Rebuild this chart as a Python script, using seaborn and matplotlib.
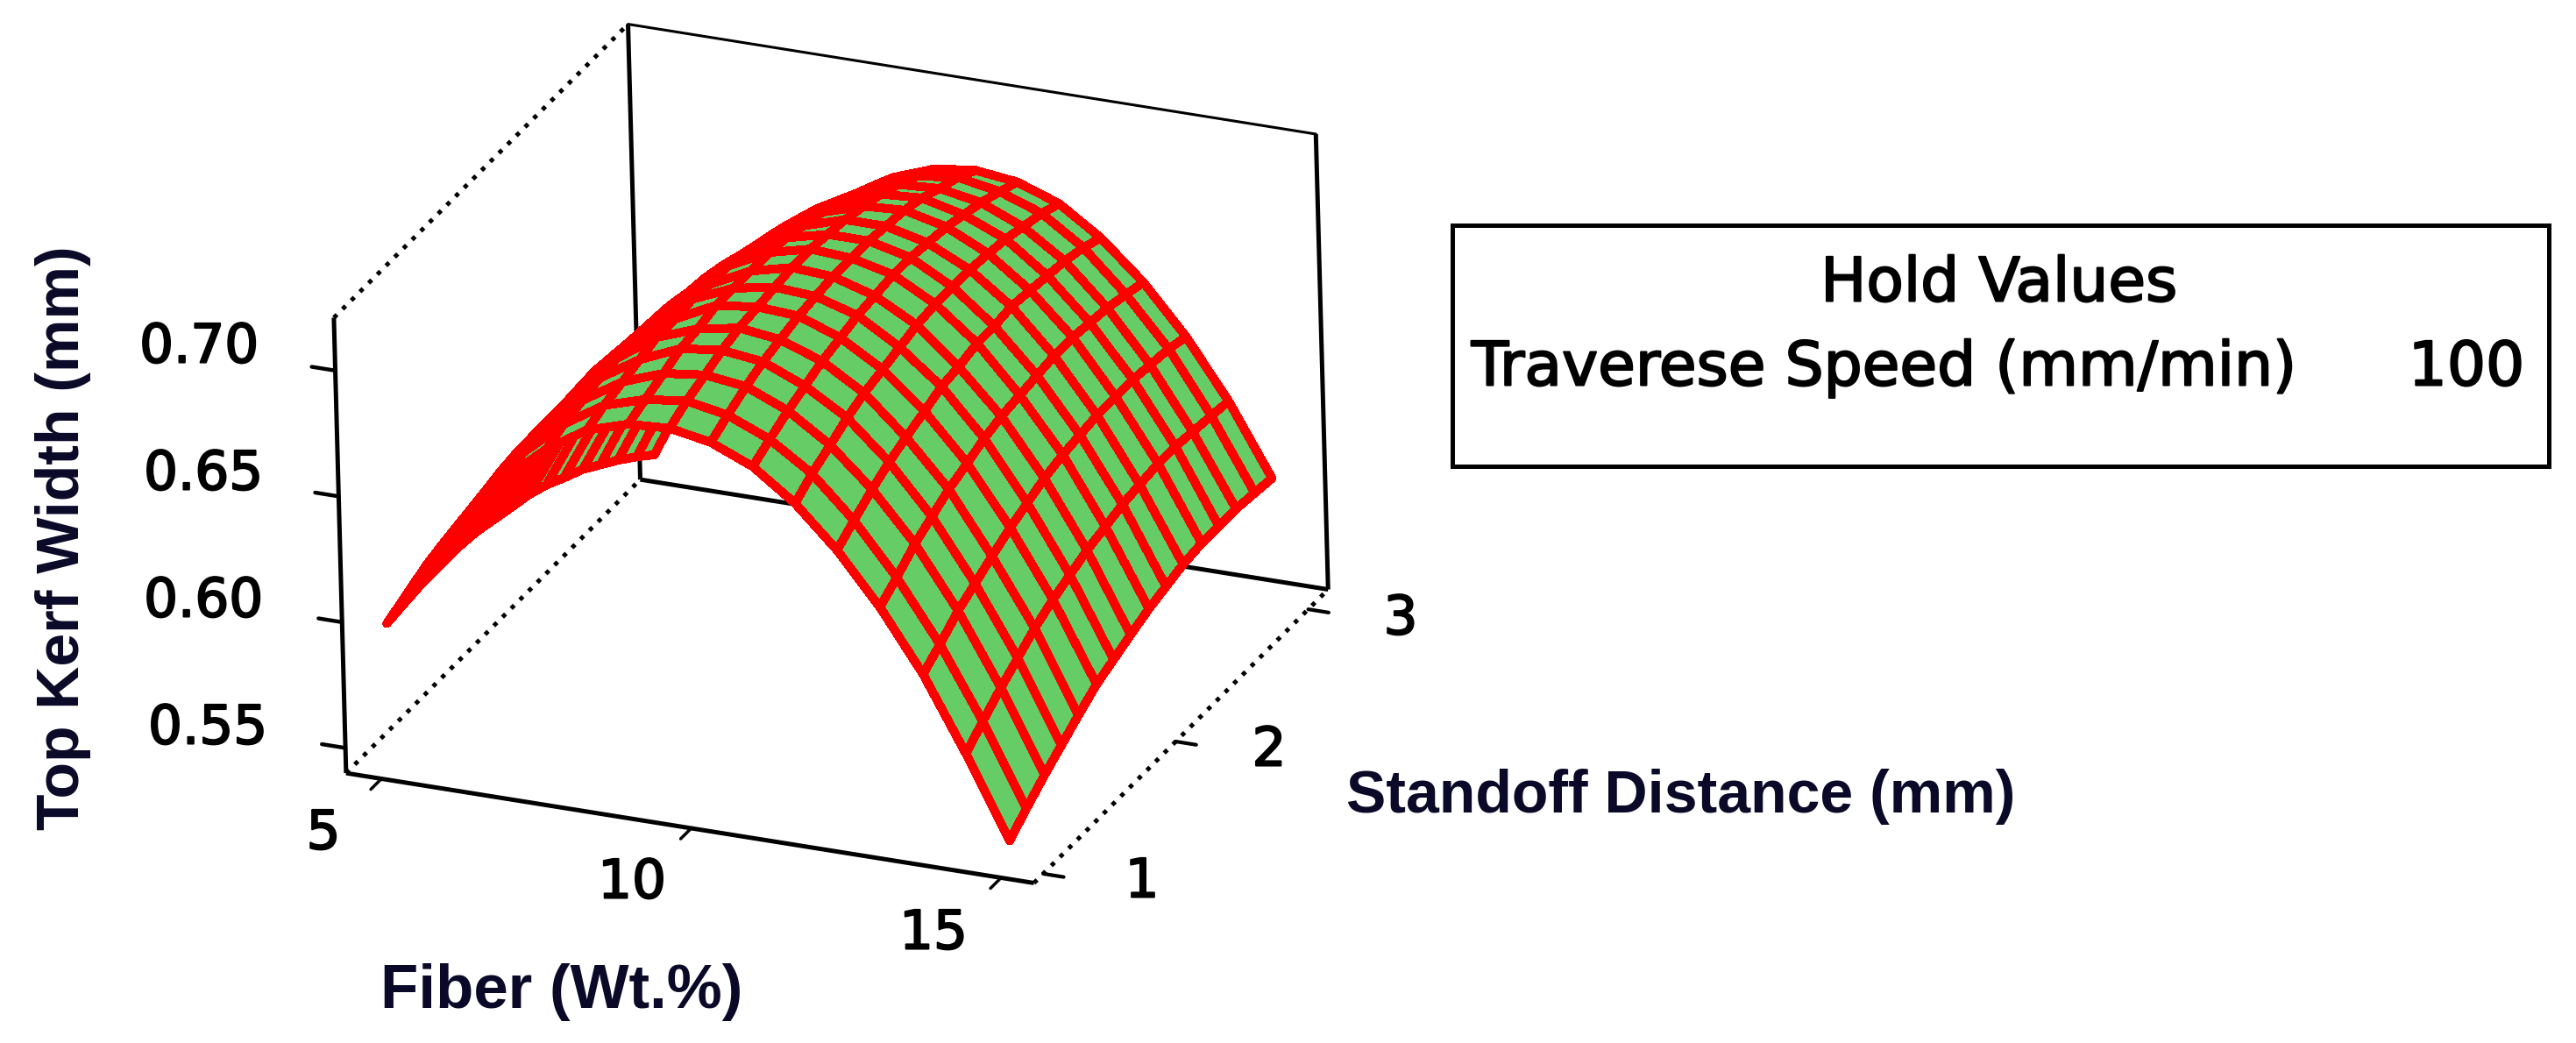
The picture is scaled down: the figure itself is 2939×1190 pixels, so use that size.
import numpy as np
import matplotlib
matplotlib.use("Agg")
import matplotlib.pyplot as plt
import matplotlib.patheffects as pe
import seaborn as sns

fiber = [5.0, 5.67, 6.33, 7.0, 7.67, 8.33, 9.0, 9.67, 10.33, 11.0, 11.67, 12.33, 13.0, 13.67, 14.33, 15.0]
standoff = [1.0, 1.13, 1.27, 1.4, 1.53, 1.67, 1.8, 1.93, 2.07, 2.2, 2.33, 2.47, 2.6, 2.73, 2.87, 3.0]

# top kerf width, one row per standoff value
kerf = [
    [.598, .624, .646, .664, .678, .688, .693, .694, .691, .684, .672, .656, .636, .612, .583, .551],
    [.599, .626, .648, .667, .681, .691, .696, .698, .695, .688, .677, .661, .641, .617, .589, .557],
    [.600, .627, .650, .669, .683, .693, .699, .701, .699, .692, .681, .666, .647, .623, .595, .563],
    [.600, .628, .651, .670, .685, .695, .702, .704, .702, .695, .685, .670, .651, .627, .600, .568],
    [.600, .628, .651, .670, .686, .697, .703, .706, .704, .698, .688, .673, .655, .631, .605, .573],
    [.599, .627, .651, .671, .686, .697, .705, .707, .706, .700, .690, .676, .658, .635, .609, .578],
    [.597, .626, .650, .670, .686, .698, .705, .708, .707, .702, .692, .679, .661, .638, .612, .581],
    [.595, .624, .649, .669, .686, .697, .705, .709, .708, .703, .694, .680, .663, .641, .615, .584],
    [.593, .622, .647, .668, .684, .697, .705, .709, .708, .704, .695, .682, .664, .643, .617, .587],
    [.590, .620, .645, .666, .683, .695, .704, .708, .708, .704, .695, .682, .665, .644, .619, .589],
    [.586, .616, .642, .663, .681, .693, .702, .707, .707, .703, .695, .683, .666, .645, .620, .591],
    [.582, .612, .638, .660, .678, .691, .700, .705, .706, .702, .694, .682, .666, .645, .621, .592],
    [.577, .608, .634, .656, .674, .688, .697, .703, .704, .700, .693, .681, .665, .645, .621, .592],
    [.572, .603, .630, .652, .671, .685, .694, .700, .701, .698, .691, .680, .664, .644, .620, .592],
    [.566, .598, .624, .647, .666, .680, .690, .696, .698, .695, .689, .678, .662, .643, .619, .591],
    [.560, .592, .619, .642, .661, .676, .686, .692, .694, .692, .686, .675, .660, .641, .618, .590],
]

fiber_ticks = [5, 10, 15]
standoff_ticks = [1, 2, 3]
kerf_ticks = [0.55, 0.60, 0.65, 0.70]
kerf_labels = ["0.55", "0.60", "0.65", "0.70"]
xlim = (4.43, 15.53)
ylim = (0.93, 3.15)
zlim = (0.54, 0.721)

sns.set_style("white")
W, H = 2939, 1190
fig = plt.figure(figsize=(W / 100, H / 100), dpi=100)
ax = fig.add_axes([337 / W, 61.4 / H, 1190 / W, 1190 / H], projection="3d", computed_zorder=False)
ax.set_proj_type("ortho")
ax.view_init(elev=24.9, azim=-66, roll=1.54)
ax.set_box_aspect((855, 847, 573), zoom=1.0874)
ax.patch.set_visible(False)
ax.set_axis_off()

xg, yg = np.meshgrid(fiber, standoff)
ax.plot_surface(xg, yg, np.array(kerf), rstride=1, cstride=1, color="#66CC66", edgecolor="#FF0000",
                linewidth=6.5, shade=False, antialiased=False, zorder=3)

# open box behind the surface
x0, x1 = xlim
y0, y1 = ylim
z0, z1 = zlim
solid = dict(color="black", lw=3.6, solid_capstyle="butt", zorder=1)
dotted = dict(color="black", lw=3.6, linestyle=(0, (1, 1.8)), zorder=1)
ax.plot([x0, x0], [y0, y0], [z0, z1], **solid)
ax.plot([x0, x0], [y1, y1], [z0, z1], **solid)
ax.plot([x1, x1], [y1, y1], [z0, z1], **solid)
ax.plot([x0, x1], [y0, y0], [z0, z0], **solid)
ax.plot([x0, x1], [y1, y1], [z0, z0], **solid)
ax.plot([x0, x1], [y1, y1], [z1, z1], color="black", lw=2.2, zorder=1)
ax.plot([x0, x0], [y0, y1], [z0, z0], **dotted)
ax.plot([x1, x1], [y0, y1], [z0, z0], **dotted)
ax.plot([x0, x0], [y0, y1], [z1, z1], **dotted)
for t in fiber_ticks:
    ax.plot([t, t], [y0, y0 - 0.08], [z0, z0], color="black", lw=2.5, zorder=1)
for t in standoff_ticks:
    ax.plot([x1, x1 + 0.33], [t, t], [z0, z0], color="black", lw=3, zorder=1)
for t in kerf_ticks:
    ax.plot([x0, x0 - 0.38], [y0, y0], [t, t], color="black", lw=3.2, zorder=1)
ax.set_xlim(xlim)
ax.set_ylim(ylim)
ax.set_zlim(zlim)


def put(px, py, s, **kw):
    fig.text(px / W, 1 - py / H, s, ha="center", va="center", **kw)


# the original digits are heavier than DejaVu regular
heavy = [pe.withStroke(linewidth=1.5, foreground="black")]
num = dict(fontsize=44, family="DejaVu Sans", color="black", path_effects=heavy)
for (px, py), s in zip([(237, 832), (232, 687), (232, 542), (227, 397)], kerf_labels):
    put(px, py, s, **num)
for (px, py), s in zip([(369, 952), (721, 1008), (1065, 1066)], fiber_ticks):
    put(px, py, str(s), **num)
for (px, py), s in zip([(1303, 1007), (1448, 857), (1598, 707)], standoff_ticks):
    put(px, py, str(s), **num)

lab = dict(family="Liberation Sans", weight="bold", color="#0A0A28")
put(641, 1132, "Fiber (Wt.%)", fontsize=51, **lab)
put(1918, 909, "Standoff Distance (mm)", fontsize=49, **lab)
put(72, 614, "Top Kerf Width (mm)", rotation=90, fontsize=49, **lab)

fig.add_artist(plt.Rectangle((1657 / W, 1 - 532 / H), (2908 - 1657) / W, (532 - 257) / H,
                             transform=fig.transFigure, fill=False, edgecolor="black", lw=3.6))
box = dict(fontsize=50, family="DejaVu Sans", color="black", path_effects=heavy)
put(2281, 324, "Hold Values", **box)
put(2150, 420, "Traverese Speed (mm/min)", **box)
put(2814, 420, "100", **box)

fig.savefig("out.png", dpi=100)
